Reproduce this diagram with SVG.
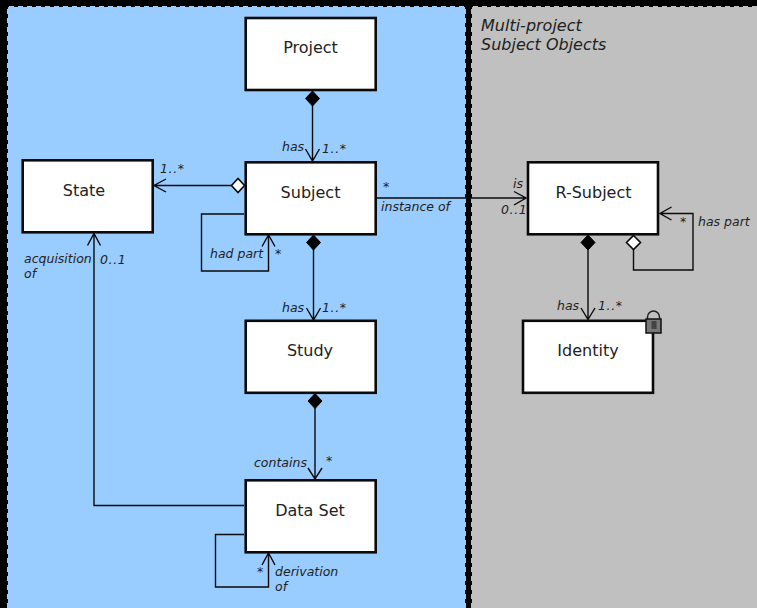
<svg xmlns="http://www.w3.org/2000/svg" width="757" height="608" viewBox="0 0 757 608">
<style>
.n{fill:#fff;stroke:#0a0a0a;stroke-width:2.6}
.t{font-family:"DejaVu Sans",Verdana,sans-serif;font-size:16px;fill:#222;text-anchor:middle}
.l{font-family:"DejaVu Sans",Verdana,sans-serif;font-size:12.5px;font-style:italic;fill:#222}
.h{font-size:16px}
.m{letter-spacing:.6px}
.c{fill:none;stroke:#0a0a0a;stroke-width:1.4}
.f{fill:#000;stroke:#000;stroke-width:1}
.o{fill:#fff;stroke:#0a0a0a;stroke-width:1.6}
.e{fill:none;stroke-width:1;stroke-dasharray:5 4}
</style>
<rect width="757" height="608" fill="#000"/>
<g id="panels">
<rect x="8" y="7" width="457" height="601" fill="#99ccff"/>
<rect x="472" y="7" width="285" height="601" fill="#c0c0c0"/>
<path class="e" stroke="#99ccff" d="M7.500 608V6.500H465.500V608"/>
<path class="e" stroke="#c0c0c0" d="M471.500 608V6.500H757"/>
<text class="l h" x="481" y="31">Multi-project</text>
<text class="l h" x="481" y="50">Subject Objects</text>
</g>
<g id="connectors">
<path class="c" d="M312.500 105V161M305.500 149L312.500 161L319.500 149"/>
<path class="f" d="M312.500 91L319.500 98.500L312.500 106L305.500 98.500Z"/>
<path class="c" d="M231 185.500H154M166 179L154 185.500L166 192"/>
<path class="o" d="M244.500 185.500L238 178.500L231.500 185.500L238 192.500Z"/>
<path class="c" d="M244 214H201.500V271H268.500V235M262 246.500L268.500 235L275 246.500"/>
<path class="c" d="M313.500 249V320M306.500 308L313.500 320L320.500 308"/>
<path class="f" d="M313.500 235L320.500 242.500L313.500 250L306.500 242.500Z"/>
<path class="c" d="M315 408V479M308 468L315 479L322 468"/>
<path class="f" d="M315 393.500L322 401L315 408.500L308 401Z"/>
<path class="c" d="M244 505.500H94V233.500M87.500 245.500L94 233.500L100.500 245.500"/>
<path class="c" d="M244 534.500H215.500V587H268.500V553M262 565L268.500 553L275 565"/>
<path class="c" d="M376 198H526M514 191.500L526 198L514 205"/>
<path class="c" d="M588 249V319.500M581 308L588 319.500L595 308"/>
<path class="f" d="M588 235L595 242.500L588 250L581 242.500Z"/>
<path class="c" d="M633.500 249V270H693V213.500H660M671.500 207L660 213.500L671.500 220"/>
<path class="o" d="M633.500 235.500L640.500 242.500L633.500 249.500L626.500 242.500Z"/>
</g>
<g id="project"><rect class="n" x="245.700" y="18" width="130" height="72"/><text class="t" x="310.500" y="53">Project</text></g>
<g id="subject"><rect class="n" x="245.700" y="162.300" width="130" height="72"/><text class="t" x="310.500" y="198">Subject</text></g>
<g id="state"><rect class="n" x="22.700" y="160.300" width="130" height="72"/><text class="t" x="84" y="196">State</text></g>
<g id="study"><rect class="n" x="245.700" y="320.800" width="130" height="72"/><text class="t" x="310" y="356">Study</text></g>
<g id="dataset"><rect class="n" x="245.700" y="480.300" width="130" height="72"/><text class="t" x="310" y="516">Data Set</text></g>
<g id="rsubject"><rect class="n" x="528" y="162.300" width="130" height="72"/><text class="t" x="593.500" y="198">R-Subject</text></g>
<g id="identity"><rect class="n" x="523" y="320.800" width="130" height="72"/><text class="t" x="588" y="356">Identity</text>
<path d="M647.500 320V317A6 6 0 0 1 659.500 317V320" fill="none" stroke="#222" stroke-width="1.500"/>
<rect x="646" y="319" width="15" height="14" fill="#777" stroke="#111" stroke-width="1.500"/><rect x="651.500" y="321" width="5" height="8" fill="#444"/></g>
<g id="labels">
<text class="l" x="282" y="151">has</text><text class="l m" x="322" y="153">1..*</text>
<text class="l m" x="160" y="173">1..*</text>
<text class="l" x="210" y="258">had part</text><text class="l" x="275" y="258">*</text>
<text class="l" x="24" y="263">acquisition</text><text class="l" x="24" y="278">of</text><text class="l m" x="100" y="264">0..1</text>
<text class="l" x="383" y="191">*</text><text class="l" x="381" y="211">instance of</text>
<text class="l" x="513" y="188">is</text><text class="l m" x="501" y="214">0..1</text>
<text class="l" x="680" y="226">*</text><text class="l" x="698" y="226">has part</text>
<text class="l" x="282" y="312">has</text><text class="l m" x="322" y="312">1..*</text>
<text class="l" x="557" y="310">has</text><text class="l m" x="598" y="310">1..*</text>
<text class="l" x="254" y="467">contains</text><text class="l" x="326" y="465">*</text>
<text class="l" x="257" y="576">*</text><text class="l" x="275" y="576">derivation</text><text class="l" x="275" y="591">of</text>
</g>
</svg>
